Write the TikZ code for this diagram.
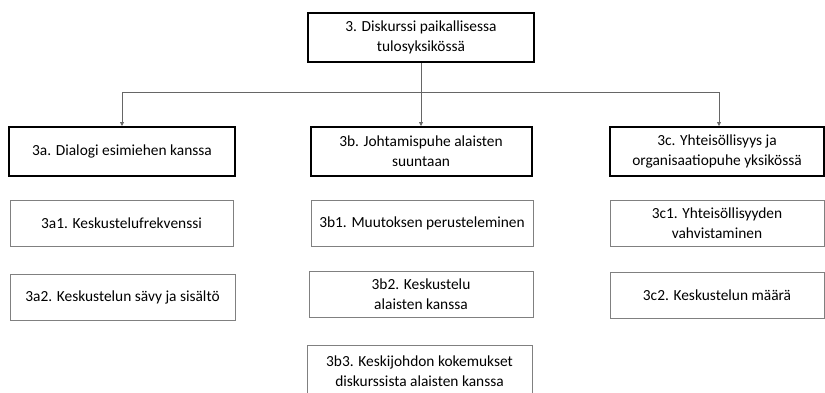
\documentclass[tikz,border=0pt]{standalone}
\usepackage{fontspec}
\setmainfont{Carlito}
\usetikzlibrary{arrows.meta}
\begin{document}
\begin{tikzpicture}[x=1pt, y=-1pt,
  every node/.style={align=center, inner sep=0pt, font=\fontsize{15.4}{20}\selectfont},
  mainbox/.style={draw, line width=2pt, minimum height=49pt},
  subbox/.style={draw=black!50, line width=1pt, minimum height=46pt},
  link/.style={draw=black!60, line width=0.8pt},
  feed/.style={-{Triangle[length=4pt, width=4pt]}}]
\useasboundingbox (0,0) rectangle (825,392);
\node [mainbox, minimum width=226pt] (disc) at (421,37.5) {3. Diskurssi paikallisessa\\tulosyksikössä};
\node [mainbox, minimum width=226pt] (dial) at (122,151.5) {3a. Dialogi esimiehen kanssa};
\node [mainbox, minimum width=221pt] (lead) at (421,151.5) {3b. Johtamispuhe alaisten\\suuntaan};
\node [mainbox, minimum width=214pt] (comm) at (717,151.5) {3c. Yhteisöllisyys ja\\organisaatiopuhe yksikössä};

%%%%%%%%%%%%%%%%%%%%%%%%%%%%%%%%%%%%%%%%

\node [subbox, minimum width=223pt] (freq) at (121.5,223) {3a1. Keskustelufrekvenssi};
\node [subbox, minimum width=225pt] (tone) at (122.5,297.5) {3a2. Keskustelun sävy ja sisältö};
\node [subbox, minimum width=222pt] (just) at (422,223) {3b1. Muutoksen perusteleminen};
\node [subbox, minimum width=224pt] (talk) at (421,294) {3b2. Keskustelu\\alaisten kanssa};
\node [subbox, minimum width=225pt, minimum height=52pt] (exper) at (419.5,371) {3b3. Keskijohdon kokemukset\\diskurssista alaisten kanssa};
\node [subbox, minimum width=214pt] (unity) at (717,223) {3c1. Yhteisöllisyyden\\vahvistaminen};
\node [subbox, minimum width=214pt] (amount) at (717,295.5) {3c2. Keskustelun määrä};

%%%%%%%%%%%%%%%%%%%%%%%%%%%%%%%%%%%%%%%%

\draw [link] (disc.south) -- ++(0,29) coordinate (fork);
\draw [link, feed] (fork) -- (lead.north);
\draw [link, feed] (fork) -| (dial.north);
\draw [link, feed] (fork) -| ([xshift=2pt]comm.north);
\end{tikzpicture}
\end{document}
